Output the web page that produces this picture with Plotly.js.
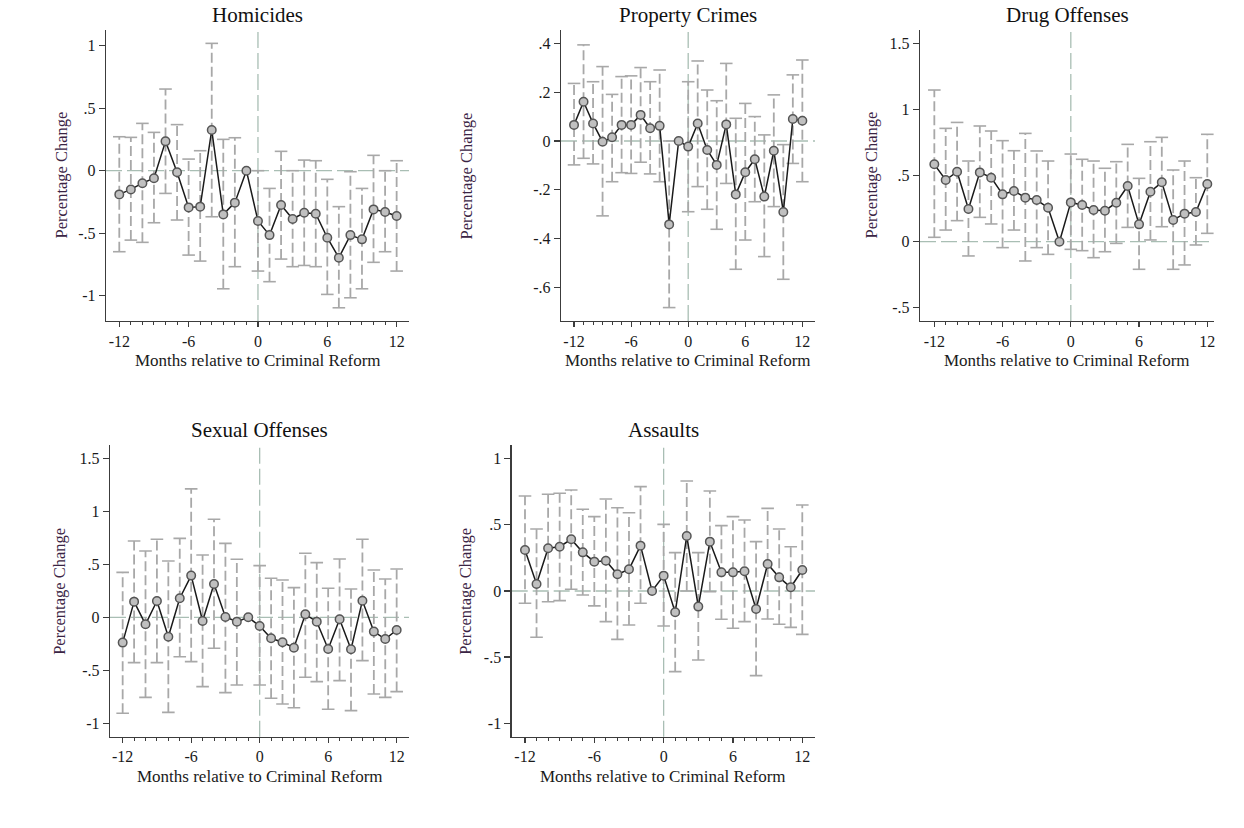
<!DOCTYPE html>
<html><head><meta charset="utf-8">
<script src="https://cdn.plot.ly/plotly-3.0.1.min.js"></script>
<style>html,body{margin:0;padding:0;background:#fff}#chart{width:1244px;height:828px}</style>
</head><body><div id="chart"></div>
<script>
// ---- data ----
const months = [-12,-11,-10,-9,-8,-7,-6,-5,-4,-3,-2,-1,0,1,2,3,4,5,6,7,8,9,10,11,12];
const xTickVals = [-12,-6,0,6,12];
const xTickText = ['-12','-6','0','6','12'];

const homicidesCoef = [-0.19,-0.15,-0.10,-0.06,0.235,-0.013,-0.294,-0.288,0.326,-0.35,-0.256,0,-0.403,-0.516,-0.275,-0.387,-0.337,-0.345,-0.537,-0.697,-0.516,-0.55,-0.31,-0.331,-0.363];
const homicidesLo = [-0.649,-0.556,-0.574,-0.417,-0.182,-0.395,-0.676,-0.724,-0.369,-0.946,-0.769,null,-0.804,-0.889,-0.708,-0.769,-0.759,-0.769,-0.991,-1.098,-1.018,-0.946,-0.734,-0.649,-0.804];
const homicidesHi = [0.272,0.267,0.379,0.307,0.654,0.369,0.093,0.16,1.02,0.251,0.264,null,0.0,-0.142,0.155,0.0,0.085,0.08,-0.069,-0.288,-0.008,-0.142,0.123,0.0,0.08];
const homicidesTickVals = [1,0.5,0,-0.5,-1];
const homicidesTickText = ['1','.5','0','-.5','-1'];

const propertyCoef = [0.066,0.161,0.072,-0.003,0.015,0.066,0.066,0.107,0.052,0.062,-0.342,0,-0.023,0.072,-0.037,-0.098,0.068,-0.219,-0.128,-0.075,-0.228,-0.04,-0.291,0.09,0.083];
const propertyLo = [-0.098,-0.071,-0.094,-0.307,-0.167,-0.13,-0.133,-0.087,-0.135,-0.167,-0.683,null,-0.29,-0.187,-0.28,-0.362,-0.174,-0.526,-0.406,-0.249,-0.474,-0.269,-0.567,-0.092,-0.167];
const propertyHi = [0.236,0.394,0.243,0.305,0.191,0.264,0.267,0.301,0.243,0.291,0.0,null,0.243,0.328,0.209,0.165,0.318,0.093,0.154,0.1,0.025,0.189,-0.015,0.271,0.332];
const propertyTickVals = [0.4,0.2,0,-0.2,-0.4,-0.6];
const propertyTickText = ['.4','.2','0','-.2','-.4','-.6'];

const drugCoef = [0.585,0.466,0.529,0.247,0.524,0.484,0.358,0.383,0.333,0.315,0.257,0,0.297,0.277,0.239,0.234,0.295,0.421,0.131,0.378,0.449,0.164,0.212,0.224,0.436];
const drugLo = [0.033,0.088,0.159,-0.108,0.184,0.134,-0.045,0.088,-0.146,-0.045,-0.096,null,-0.058,-0.068,-0.121,-0.076,-0.013,0.108,-0.209,0.013,0.113,-0.209,-0.176,-0.025,0.063];
const drugHi = [1.147,0.857,0.902,0.61,0.875,0.837,0.764,0.688,0.819,0.686,0.61,null,0.663,0.623,0.61,0.555,0.605,0.736,0.479,0.756,0.789,0.542,0.61,0.484,0.812];
const drugTickVals = [1.5,1,0.5,0,-0.5];
const drugTickText = ['1.5','1','.5','0','-.5'];

const sexualCoef = [-0.239,0.148,-0.066,0.154,-0.183,0.18,0.394,-0.035,0.315,0.003,-0.041,0,-0.082,-0.198,-0.236,-0.287,0.028,-0.041,-0.299,-0.019,-0.302,0.157,-0.135,-0.205,-0.12];
const sexualLo = [-0.907,-0.428,-0.756,-0.428,-0.898,-0.372,-0.419,-0.655,-0.293,-0.712,-0.639,null,-0.639,-0.765,-0.819,-0.854,-0.567,-0.608,-0.869,-0.598,-0.882,-0.409,-0.724,-0.756,-0.702];
const sexualHi = [0.425,0.721,0.627,0.737,0.532,0.746,1.213,0.589,0.926,0.699,0.548,null,0.488,0.369,0.353,0.28,0.605,0.517,0.274,0.551,0.268,0.737,0.447,0.362,0.457];
const sexualTickVals = [1.5,1,0.5,0,-0.5,-1];
const sexualTickText = ['1.5','1','.5','0','-.5','-1'];

const assaultCoef = [0.31,0.053,0.323,0.335,0.391,0.292,0.222,0.229,0.126,0.164,0.343,0,0.116,-0.161,0.416,-0.118,0.373,0.141,0.141,0.149,-0.136,0.204,0.103,0.028,0.159];
const assaultLo = [-0.093,-0.35,-0.081,-0.073,0.013,-0.03,-0.113,-0.232,-0.366,-0.257,-0.093,null,-0.265,-0.61,0.0,-0.522,-0.005,-0.214,-0.282,-0.232,-0.64,-0.212,-0.252,-0.275,-0.328];
const assaultHi = [0.718,0.469,0.731,0.739,0.764,0.618,0.562,0.696,0.63,0.592,0.789,null,0.504,0.29,0.832,0.29,0.756,0.494,0.562,0.537,0.373,0.625,0.469,0.335,0.65];
const assaultTickVals = [1,0.5,0,-0.5,-1];
const assaultTickText = ['1','.5','0','-.5','-1'];

const panelTitles = ['Homicides','Property Crimes','Drug Offenses','Sexual Offenses','Assaults'];
const xTitleText = 'Months relative to Criminal Reform';
const yTitleText = 'Percentage Change';

// ---- layout (pixel geometry of the 1244x828 page) ----
const W = 1244, H = 828;
const panels = [
  {coef: homicidesCoef, lo: homicidesLo, hi: homicidesHi, tv: homicidesTickVals, tt: homicidesTickText,
   px: [106, 409], py: [30, 321], xr: [-13.15, 13.07], yr: [-1.204, 1.127], yTitleX: 61},
  {coef: propertyCoef, lo: propertyLo, hi: propertyHi, tv: propertyTickVals, tt: propertyTickText,
   px: [561, 815], py: [30, 321], xr: [-13.37, 13.33], yr: [-0.738, 0.455], yTitleX: 466},
  {coef: drugCoef, lo: drugLo, hi: drugHi, tv: drugTickVals, tt: drugTickText,
   px: [920, 1214], py: [30, 321], xr: [-13.26, 12.59], yr: [-0.600, 1.601], yTitleX: 871},
  {coef: sexualCoef, lo: sexualLo, hi: sexualHi, tv: sexualTickVals, tt: sexualTickText,
   px: [110, 409], py: [445, 736.7], xr: [-13.11, 13.08], yr: [-1.128, 1.628], yTitleX: 60},
  {coef: assaultCoef, lo: assaultLo, hi: assaultHi, tv: assaultTickVals, tt: assaultTickText,
   px: [511.7, 815], py: [445, 736.7], xr: [-13.15, 13.10], yr: [-1.102, 1.104], yTitleX: 466}
];

const FONT = 'Liberation Serif, Times New Roman, serif';
const AXIS_COLOR = '#3c3c3c';
const REF_COLOR = '#a9beb4';
const CI_COLOR = '#a8a8a8';

const traces = [];
const layout = {
  width: W, height: H,
  margin: {l: 0, r: 0, t: 0, b: 0},
  paper_bgcolor: '#ffffff', plot_bgcolor: '#ffffff',
  showlegend: false,
  font: {family: FONT, size: 16, color: '#1a1a1a'},
  shapes: [], annotations: []
};

panels.forEach((p, i) => {
  const n = i + 1;
  const xa = n === 1 ? 'x' : 'x' + n;
  const ya = n === 1 ? 'y' : 'y' + n;
  const xKey = n === 1 ? 'xaxis' : 'xaxis' + n;
  const yKey = n === 1 ? 'yaxis' : 'yaxis' + n;
  const xDom = [p.px[0] / W, p.px[1] / W];
  const yDom = [1 - p.py[1] / H, 1 - p.py[0] / H];

  layout[xKey] = {
    domain: xDom, range: p.xr, anchor: ya, showgrid: false, zeroline: false,
    showline: true, linecolor: AXIS_COLOR, linewidth: 1.3,
    ticks: 'outside', ticklen: 5, tickwidth: 1.2, tickcolor: AXIS_COLOR,
    tickmode: 'array', tickvals: xTickVals, ticktext: xTickText,
    minor: {tickvals: months, ticks: 'outside', ticklen: 3, tickwidth: 1, tickcolor: AXIS_COLOR, showgrid: false},
    tickfont: {family: FONT, size: 16, color: '#1a1a1a'}, fixedrange: true
  };
  layout[yKey] = {
    domain: yDom, range: p.yr, anchor: xa, showgrid: false, zeroline: false,
    showline: true, linecolor: AXIS_COLOR, linewidth: 1.3,
    ticks: 'outside', ticklen: 6, tickwidth: 1.2, tickcolor: AXIS_COLOR,
    tickmode: 'array', tickvals: p.tv, ticktext: p.tt,
    tickfont: {family: FONT, size: 16, color: '#1a1a1a'}, fixedrange: true
  };

  // reference lines
  layout.shapes.push({type: 'line', xref: xa + ' domain', yref: ya, x0: 0, x1: 1, y0: 0, y1: 0,
    line: {color: REF_COLOR, width: 1.3, dash: '16px,5px'}, layer: 'below'});
  layout.shapes.push({type: 'line', xref: xa, yref: ya + ' domain', x0: 0, x1: 0, y0: 0, y1: 1,
    line: {color: REF_COLOR, width: 1.3, dash: '16px,5px'}, layer: 'below'});

  // CI stems
  const sx = [], sy = [], cx = [], cy = [];
  months.forEach((m, k) => {
    if (p.lo[k] === null || p.hi[k] === null) return;
    sx.push(m, m, null); sy.push(p.lo[k], p.hi[k], null);
    cx.push(m, m); cy.push(p.lo[k], p.hi[k]);
  });
  traces.push({type: 'scatter', mode: 'lines', x: sx, y: sy, xaxis: xa, yaxis: ya,
    line: {color: CI_COLOR, width: 1.8, dash: '10px,4px'}, hoverinfo: 'skip', connectgaps: false});
  traces.push({type: 'scatter', mode: 'markers', x: cx, y: cy, xaxis: xa, yaxis: ya,
    marker: {symbol: 'line-ew', size: 9, line: {color: CI_COLOR, width: 1.6}}, hoverinfo: 'skip'});
  // coefficients
  traces.push({type: 'scatter', mode: 'lines+markers', x: months, y: p.coef, xaxis: xa, yaxis: ya,
    line: {color: '#1a1a1a', width: 1.5},
    marker: {symbol: 'circle', size: 8.5, color: '#c0c0c0', line: {color: '#555555', width: 1.5}}});

  // titles
  const cxp = (p.px[0] + p.px[1]) / 2 / W;
  layout.annotations.push({text: panelTitles[i], xref: 'paper', yref: 'paper',
    x: cxp, y: 1 - p.py[0] / H, xanchor: 'center', yanchor: 'bottom', yshift: 1, showarrow: false,
    font: {family: FONT, size: 21, color: '#111111'}});
  layout.annotations.push({text: xTitleText, xref: 'paper', yref: 'paper',
    x: cxp, y: 1 - (p.py[1] + 40) / H, xanchor: 'center', yanchor: 'middle', showarrow: false,
    font: {family: FONT, size: 17, color: '#1a1a1a'}});
  layout.annotations.push({text: yTitleText, xref: 'paper', yref: 'paper', textangle: -90,
    x: p.yTitleX / W, y: 1 - (p.py[0] + p.py[1]) / 2 / H, xanchor: 'center', yanchor: 'middle', showarrow: false,
    font: {family: FONT, size: 16.5, color: '#3a2444'}});
});

Plotly.newPlot('chart', traces, layout, {displayModeBar: false, staticPlot: true});
</script>
</body></html>
